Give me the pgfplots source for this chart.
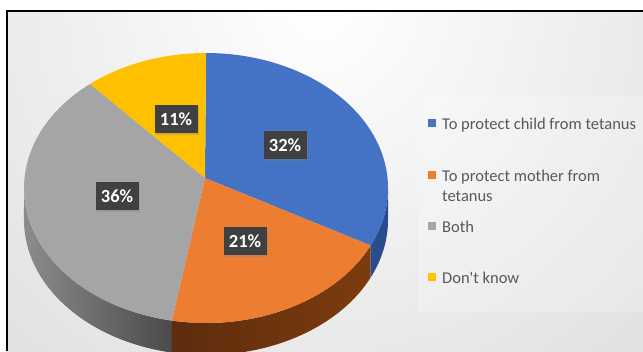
\documentclass[border=0pt]{standalone}
\usepackage{pgfplots}
\pgfplotsset{compat=1.18}
\usepackage{pgfplotstable}
\usetikzlibrary{shadows}
\usepackage{fontspec}
\setmainfont{Carlito}

\definecolor{cBlue}{HTML}{4472C4}
\definecolor{cOrange}{HTML}{ED7D31}
\definecolor{cGray}{HTML}{A5A5A5}
\definecolor{cYellow}{HTML}{FFC000}
\definecolor{sBlue}{HTML}{2A4C8A}
\definecolor{sOrange}{HTML}{6E3410}
\definecolor{sGrayL}{HTML}{8C8C8C}
\definecolor{sGrayD}{HTML}{4A4A4A}
\definecolor{lblBox}{HTML}{404040}
\definecolor{txt}{HTML}{595959}
\definecolor{bgOut}{HTML}{D2D2D2}

\pgfplotstableread[col sep=comma]{
label,value
To protect child from tetanus,32
To protect mother from tetanus,21
Both,36
Don't know,11
}\piedata

\pgfplotstablegetelem{0}{value}\of\piedata \edef\vA{\pgfplotsretval}
\pgfplotstablegetelem{1}{value}\of\piedata \edef\vB{\pgfplotsretval}
\pgfplotstablegetelem{2}{value}\of\piedata \edef\vC{\pgfplotsretval}
\pgfplotstablegetelem{3}{value}\of\piedata \edef\vD{\pgfplotsretval}
\pgfmathsetmacro\tA{90}
\pgfmathsetmacro\tB{\tA-3.6*\vA}
\pgfmathsetmacro\tC{\tB-3.6*\vB}
\pgfmathsetmacro\tD{\tC-3.6*\vC}
\pgfmathsetmacro\tE{\tD-3.6*\vD}
\pgfmathsetmacro\tCp{\tC+360}

% ellipse geometry (pixel units, y downwards)
\def\cx{206}\def\cy{188}\def\ra{182}\def\rb{135}\def\dep{32}
\def\ax{205}\def\ay{178}

\begin{document}
\begin{tikzpicture}[x=1pt,y=1pt]
\fill[white] (0,0) rectangle (643,351);
\begin{scope}
\clip (7,0) rectangle (643,340);
\fill[bgOut] (7,0) rectangle (643,340);
\shade[inner color=white, outer color=bgOut] (320,345) circle (700);
\fill[white,opacity=0.2] (418,39) rectangle (643,256);
\end{scope}
\draw[black,line width=2pt] (7,0) -- (7,340) -- (643,340);

\begin{axis}[
  at={(0,0)}, anchor=south west,
  width=643pt, height=351pt, scale only axis,
  xmin=0, xmax=643, ymin=0, ymax=351, y dir=reverse,
  hide axis, clip=false,
]
% ---- sides (depth): top rim, then bottom rim back ----
\addplot[left color=sGrayL, right color=sGrayD, draw=none, domain=180:\tCp, samples=60, variable=\t]
  ({\cx+\ra*cos(\t)},{\cy-\rb*sin(\t)})
  -- (axis cs:{\cx+\ra*cos(\tCp)},{\cy+\dep-\rb*sin(\tCp)})
  arc[start angle=\tCp, end angle=180, x radius=\ra pt, y radius=\rb pt] -- cycle;
\addplot[left color=sOrange!85!black, right color=sOrange!90!orange, draw=none, domain=\tC:\tB, samples=50, variable=\t]
  ({\cx+\ra*cos(\t)},{\cy-\rb*sin(\t)})
  -- (axis cs:{\cx+\ra*cos(\tB)},{\cy+\dep-\rb*sin(\tB)})
  arc[start angle=\tB, end angle=\tC, x radius=\ra pt, y radius=\rb pt] -- cycle;
\addplot[fill=sBlue, draw=none, domain=\tB:0, samples=30, variable=\t]
  ({\cx+\ra*cos(\t)},{\cy-\rb*sin(\t)})
  -- (axis cs:{\cx+\ra},{\cy+\dep})
  arc[start angle=0, end angle=\tB, x radius=\ra pt, y radius=\rb pt] -- cycle;

% ---- top faces ----
\addplot[fill=cBlue, draw=none, domain=\tB:\tA, samples=80, variable=\t]
  ({\cx+\ra*cos(\t)},{\cy-\rb*sin(\t)}) -- (axis cs:\ax,\ay) -- cycle;
\addplot[fill=cOrange, draw=none, domain=\tC:\tB, samples=60, variable=\t]
  ({\cx+\ra*cos(\t)},{\cy-\rb*sin(\t)}) -- (axis cs:\ax,\ay) -- cycle;
\addplot[fill=cGray, draw=none, domain=\tD:\tC, samples=90, variable=\t]
  ({\cx+\ra*cos(\t)},{\cy-\rb*sin(\t)}) -- (axis cs:\ax,\ay) -- cycle;
\addplot[fill=cYellow, draw=none, domain=\tE:\tD, samples=40, variable=\t]
  ({\cx+\ra*cos(\t)},{\cy-\rb*sin(\t)}) -- (axis cs:\ax,\ay) -- cycle;

% ---- data labels ----
\tikzset{lbl/.style={fill=lblBox, text=white, font=\fontsize{18.5}{20}\selectfont\bfseries,
   minimum width=43pt, minimum height=28pt, inner sep=2pt,
   drop shadow={opacity=0.35, shadow xshift=1.5pt, shadow yshift=-1.5pt}}}
\node[lbl] at (axis cs:285,145) {\vA\%};
\node[lbl] at (axis cs:245,241) {\vB\%};
\node[lbl] at (axis cs:117,196) {\vC\%};
\node[lbl] at (axis cs:176,119) {\vD\%};

% ---- legend ----
\tikzset{ltxt/.style={anchor=base west, text=txt, font=\fontsize{16.5}{20}\selectfont, inner sep=0pt}}
\fill[cBlue]   (axis cs:428,119) rectangle (axis cs:436,127);
\fill[cOrange] (axis cs:428,171) rectangle (axis cs:436,179);
\fill[cGray]   (axis cs:428,222) rectangle (axis cs:436,230);
\fill[cYellow] (axis cs:428,273) rectangle (axis cs:436,281);
\node[ltxt] at (axis cs:442,129) {To protect child from tetanus};
\node[ltxt] at (axis cs:442,181) {To protect mother from};
\node[ltxt] at (axis cs:442,201) {tetanus};
\node[ltxt] at (axis cs:442,232) {Both};
\node[ltxt] at (axis cs:442,283) {Don\textquotesingle t know};
\end{axis}
\pgfresetboundingbox
\useasboundingbox (0,0) rectangle (643,351);
\end{tikzpicture}
\end{document}
